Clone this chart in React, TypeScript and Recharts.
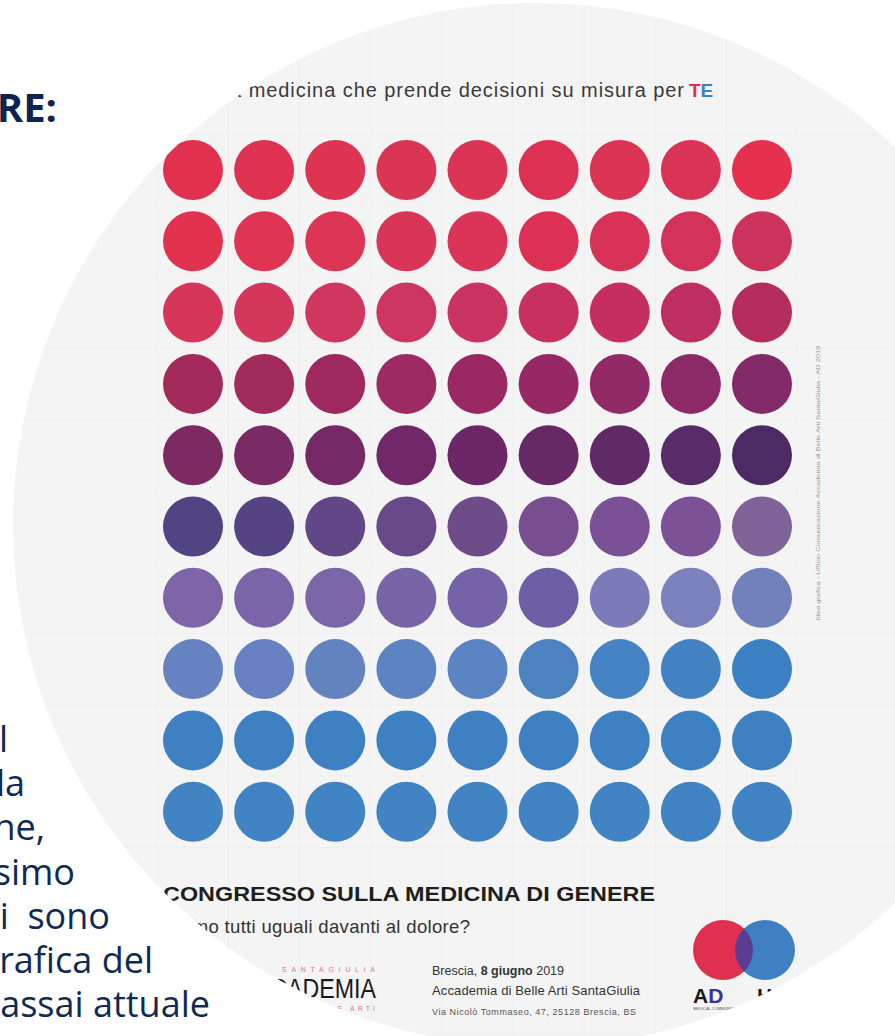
import React from "react"
import { ScatterChart, Scatter, XAxis, YAxis, CartesianGrid } from "recharts"

// poster grid: 9 columns x 10 rows of coloured dots
const columns = [0, 1, 2, 3, 4, 5, 6, 7, 8]
const rowColors: string[][] = [
    ["#e2314f", "#df3250", "#dd3452", "#db3554", "#dc3454", "#dd3153", "#db3455", "#d93456", "#e5304f"],
    ["#e13350", "#df3452", "#dc3555", "#d93657", "#da3558", "#dc3055", "#d83259", "#d3335a", "#cd345b"],
    ["#d6365a", "#d4365c", "#cf3760", "#cc3661", "#cb3462", "#c8305f", "#c42e60", "#bc2f60", "#b52d5c"],
    ["#a32b5c", "#a22b5e", "#9f285e", "#9d2a63", "#992863", "#952865", "#912a66", "#8c2a67", "#832b68"],
    ["#7c2a62", "#7a2a64", "#762966", "#702868", "#6c2866", "#672965", "#5f2a66", "#582b69", "#4c2b64"],
    ["#514483", "#554484", "#614788", "#684989", "#6e4c8a", "#774e8f", "#7a5197", "#7c5297", "#7e6298"],
    ["#7d65a7", "#7c64a8", "#7b67a8", "#7a64a8", "#7463a6", "#6c5fa5", "#7c7bb9", "#7b81bd", "#7281bc"],
    ["#6682c0", "#6881c3", "#6383be", "#5e83c2", "#5a84c3", "#4d82c1", "#4683c4", "#4483c3", "#3a80c2"],
    ["#3e80c2", "#3e81c3", "#3f80c2", "#3e81c3", "#3e80c2", "#3e81c3", "#3f80c2", "#3e81c3", "#3e80c2"],
    ["#4183c3", "#4183c3", "#4183c3", "#4183c3", "#4183c3", "#4183c3", "#4183c3", "#4183c3", "#4183c3"],
]
const colTicks = [-0.5, 0.5, 1.5, 2.5, 3.5, 4.5, 5.5, 6.5, 7.5, 8.5]
const rowTicks = [-0.5, 0.5, 1.5, 2.5, 3.5, 4.5, 5.5, 6.5, 7.5, 8.5, 9.5]

const headline = "La medicina che prende decisioni su misura per"
const title = "CONGRESSO SULLA MEDICINA DI GENERE"
const subtitle = "Siamo tutti uguali davanti al dolore?"
const sideNote = "Idea grafica - Ufficio Comunicazione Accademia di Belle Arti SantaGiulia - AD 2019"
const leftLines = ["l", "la", "ne,", "simo", "i  sono", "rafica del", "assai attuale"]
const leftEnds = [8, 25, 45, 75, 110, 153, 210]

const dots = rowColors.flatMap((row, r) => row.map((color, c) => ({ col: columns[c], row: r, color })))

const W = 895
const H = 1036
const navy = "#0f2a55"

function Dot(props: any) {
    if (props.cx == null) return null
    return <circle cx={props.cx} cy={props.cy} r={30} fill={props.payload.color} />
}

export default function App() {
    return (
        <div style={{ position: "absolute", left: 0, top: 0, width: W, height: H, background: "#fff", overflow: "hidden" }}>
            {/* page text behind the round crop */}
            <svg width={W} height={H} style={{ position: "absolute", left: 0, top: 0 }}>
                <text x={57} y={122} textAnchor="end" fontFamily="Open Sans" fontWeight={700} fontSize={40} fill="#0e2450">RE:</text>
                {leftLines.map((t, i) => (
                    <text key={i} x={leftEnds[i]} y={752 + i * 44.2} textAnchor="end"
                        fontFamily="Open Sans" fontSize={36} fill={navy} style={{ whiteSpace: "pre" }}>{t}</text>
                ))}
            </svg>

            <div style={{ position: "absolute", left: 0, top: 0, width: W, height: H, background: "#f4f4f4", clipPath: "circle(522px at 535px 525px)" }}>
                <div style={{ position: "absolute", left: 0, top: 0 }}>
                    <ScatterChart width={W} height={H} margin={{ top: 0, right: 0, bottom: 0, left: 0 }}>
                        <CartesianGrid stroke="#eeeeee" />
                        <XAxis type="number" dataKey="col" domain={[-2.7135, 9.87]} ticks={colTicks} hide />
                        <YAxis type="number" dataKey="row" domain={[-2.3843, 12.146]} ticks={rowTicks} reversed hide />
                        <Scatter data={dots} shape={<Dot />} isAnimationActive={false} />
                    </ScatterChart>
                </div>
                <svg width={W} height={H} style={{ position: "absolute", left: 0, top: 0 }}>
                    <defs>
                        <clipPath id="blueLogo">
                            <circle cx={765} cy={950} r={30} />
                        </clipPath>
                    </defs>
                    <text x={218} y={97} textLength={466} lengthAdjust="spacing" fontFamily="Liberation Sans" fontSize={20} fill="#3a3a3a">{headline}</text>
                    <text x={689} y={97} fontFamily="Liberation Sans" fontWeight={700} fontSize={19}>
                        <tspan fill="#e0304f">T</tspan><tspan fill="#3f80c2">E</tspan>
                    </text>

                    <text x={820} y={483} transform="rotate(-90 820 483)" textAnchor="middle" textLength={275} lengthAdjust="spacingAndGlyphs" fontFamily="Liberation Sans" fontSize={5.5} fill="#9a9a9a">{sideNote}</text>

                    <text x={163} y={901} textLength={492} lengthAdjust="spacingAndGlyphs" fontFamily="Liberation Sans" fontWeight={700} fontSize={21} fill="#1e1e1e">{title}</text>
                    <text x={165} y={933} textLength={305} lengthAdjust="spacing" fontFamily="Liberation Sans" fontSize={18.5} fill="#333">{subtitle}</text>

                    <text x={282} y={972} textLength={93} lengthAdjust="spacing" fontFamily="Liberation Sans" fontSize={7} fill="#d67a8c">SANTAGIULIA</text>
                    <text x={238} y={998} textLength={138} lengthAdjust="spacingAndGlyphs" fontFamily="Liberation Sans Narrow, Liberation Sans" fontSize={27} fill="#1a1a1a">ACCADEMIA</text>
                    <text x={290} y={1011} textLength={85} lengthAdjust="spacing" fontFamily="Liberation Sans" fontSize={7} fill="#d67a8c">DI BELLE ARTI</text>

                    <text x={432} y={975} fontFamily="Liberation Sans" fontSize={12.5} fill="#333">
                        Brescia, <tspan fontWeight={700}>8 giugno</tspan> 2019
                    </text>
                    <text x={432} y={995} textLength={208} lengthAdjust="spacing" fontFamily="Liberation Sans" fontSize={13} fill="#333">Accademia di Belle Arti SantaGiulia</text>
                    <text x={432} y={1015} textLength={204} lengthAdjust="spacing" fontFamily="Liberation Sans" fontSize={9} fill="#555">Via Nicolò Tommaseo, 47, 25128 Brescia, BS</text>

                    <circle cx={723} cy={950} r={30} fill="#e0304f" />
                    <circle cx={765} cy={950} r={30} fill="#3f80c2" />
                    <circle cx={723} cy={950} r={30} fill="#5a3d90" clipPath="url(#blueLogo)" />
                    <text x={693} y={1003} fontFamily="Liberation Sans" fontWeight={700} fontSize={21}>
                        <tspan fill="#1a1a1a">A</tspan><tspan fill="#3b3590">D</tspan>
                    </text>
                    <text x={757} y={1003} fontFamily="Liberation Sans" fontWeight={700} fontSize={21} fill="#1a1a1a">HOC</text>
                    <text x={693} y={1010} fontFamily="Liberation Sans" fontSize={4} fill="#555">MEDICAL COMMUNICATION</text>
                </svg>
            </div>
        </div>
    )
}
